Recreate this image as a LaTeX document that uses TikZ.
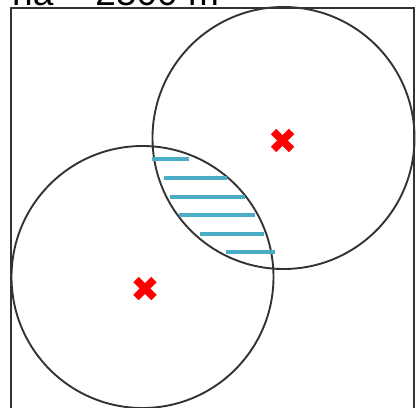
\documentclass[tikz,border=0pt]{standalone}
\usepackage{fontspec}
\setmainfont{Liberation Sans}
\usetikzlibrary{calc}
\definecolor{hatch}{HTML}{4BACC6}
\definecolor{edge}{HTML}{333333}
\definecolor{mark}{HTML}{FF0000}
\begin{document}
\begin{tikzpicture}[x=1pt,y=-1pt,
  outline/.style={draw=edge,line width=1.9pt},
  hatchline/.style={draw=hatch,line width=4.3pt},
  crossmark/.style={draw=mark,line width=7.5pt}]
\useasboundingbox (0,0) rectangle (417,407);
\clip (0,0) rectangle (417,407);
\fill[white] (0,0) rectangle (417,407);
% cut-off title
\node[anchor=base west,inner sep=0pt,font=\fontsize{37}{40}\selectfont] (title) at (12,5) {na = 2500 m};
% frame
\draw[outline] (11,420) -- (11,8) -- (414,8) -- (414,420);
% circles
\coordinate (c1) at (283.5,138);
\coordinate (c2) at (142.5,277);
\draw[outline] (c1) circle[radius=131];
\draw[outline] (c2) circle[radius=131];
% hatch lines in the overlap
\draw[hatchline] (152,159) -- (189,159);
\draw[hatchline] (164,178) -- (227,178);
\draw[hatchline] (170,197) -- (245,197);
\draw[hatchline] (179,215) -- (255,215);
\draw[hatchline] (200,234) -- (264,234);
\draw[hatchline] (226,252) -- (275,252);
% centre marks
\coordinate (m1) at (282.5,140.5);
\coordinate (m2) at (145,288.5);
\foreach \m in {m1,m2}{
  \draw[crossmark] ($(\m)+(-9,-9)$) -- ($(\m)+(9,9)$);
  \draw[crossmark] ($(\m)+(-9,9)$) -- ($(\m)+(9,-9)$);
}
\end{tikzpicture}
\end{document}
